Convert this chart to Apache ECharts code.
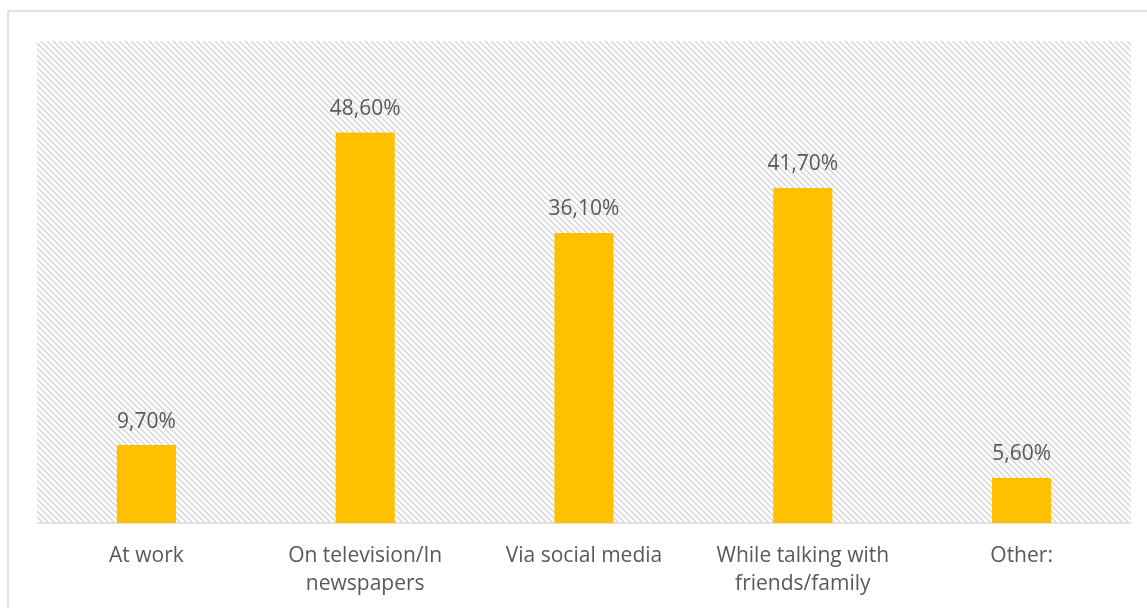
<!DOCTYPE html>
<html>
<head>
<meta charset="utf-8">
<script src="https://cdn.jsdelivr.net/npm/echarts@6/dist/echarts.min.js"></script>
<style>
  html, body { margin: 0; padding: 0; background: #fff; }
  #chart { width: 1147px; height: 608px; }
</style>
</head>
<body>
<div id="chart"></div>
<script>
// Where respondents heard about it (share of answers, %)
const categories = [
  'At work',
  'On television/In\nnewspapers',
  'Via social media',
  'While talking with\nfriends/family',
  'Other:'
];
const shares = [9.7, 48.6, 36.1, 41.7, 5.6];

// Diagonal hatch tile for the plot background
function hatchTile() {
  const size = 6;
  const c = document.createElement('canvas');
  c.width = size; c.height = size;
  const ctx = c.getContext('2d');
  ctx.fillStyle = '#ffffff';
  ctx.fillRect(0, 0, size, size);
  ctx.strokeStyle = '#d6d6d6';
  ctx.lineWidth = 1.5;
  ctx.beginPath();
  ctx.moveTo(-size, -size); ctx.lineTo(size * 2, size * 2);
  ctx.moveTo(-size, 0); ctx.lineTo(size, size * 2);
  ctx.moveTo(0, -size); ctx.lineTo(size * 2, size);
  ctx.stroke();
  return c;
}

const chart = echarts.init(document.getElementById('chart'), null, { renderer: 'canvas' });
const textColor = '#595959';
const fontFamily = '"Open Sans", "Noto Sans", sans-serif';

chart.setOption({
  animation: false,
  textStyle: { fontFamily: fontFamily },
  graphic: [{
    type: 'rect',
    shape: { x: 8, y: 11, width: 1300, height: 800 },
    style: { fill: 'none', stroke: '#d9d9d9', lineWidth: 1.5 },
    silent: true,
    z: -10
  }],
  grid: {
    left: 37, right: 16, top: 41, bottom: 85,
    show: true,
    borderWidth: 0,
    backgroundColor: { image: hatchTile(), repeat: 'repeat' }
  },
  xAxis: {
    type: 'category',
    data: categories,
    axisLine: { show: true, lineStyle: { color: '#d9d9d9', width: 1.5 } },
    axisTick: { show: false },
    axisLabel: {
      color: textColor, fontSize: 21, lineHeight: 28, margin: 19,
      fontFamily: fontFamily, interval: 0
    },
    splitLine: { show: false }
  },
  yAxis: {
    type: 'value', min: 0, max: 60,
    show: false,
    splitLine: { show: false }
  },
  series: [{
    type: 'bar',
    data: shares,
    barWidth: '27%',
    itemStyle: { color: '#FFC000' },
    label: {
      show: true,
      position: 'top',
      distance: 13,
      color: textColor,
      fontSize: 21,
      fontFamily: fontFamily,
      formatter: p => p.value.toFixed(2).replace('.', ',') + '%'
    }
  }]
});
</script>
</body>
</html>
